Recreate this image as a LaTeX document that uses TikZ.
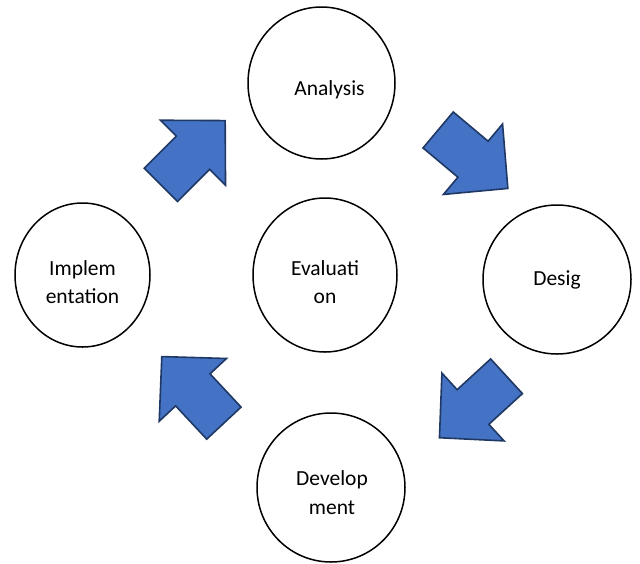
\documentclass[tikz,border=0pt]{standalone}
\usepackage{fontspec}
\setmainfont{Carlito}
\usetikzlibrary{shapes.geometric}

\definecolor{arrowfill}{HTML}{4472C4}
\definecolor{arrowline}{HTML}{1F3864}

\tikzset{
  phase/.style={ellipse, draw=black, line width=1.5pt, fill=white, inner sep=0pt},
  phasetext/.style={inner sep=0pt, align=center, font=\fontsize{21.5}{28.5}\selectfont},
  arrowshape/.style={fill=arrowfill, draw=arrowline, line width=1.6pt, line join=miter},
  blockarrow/.pic={
    \draw[arrowshape] (-45.5,-23.5) -- (0,-23.5) -- (0,-46) -- (45.5,0)
      -- (0,46) -- (0,23.5) -- (-45.5,23.5) -- cycle;
  }
}

\begin{document}
\begin{tikzpicture}[x=1pt,y=-1pt]
    % 
  \useasboundingbox (0,0) rectangle (640,563);

  \node[phase, minimum width=147pt, minimum height=152pt] (analysis) at (321.5,83) {};
  \node[phase, minimum width=148pt, minimum height=149pt] (design) at (557,279.5) {};
  \node[phase, minimum width=148pt, minimum height=149pt] (develop) at (331,487.5) {};
  \node[phase, minimum width=135pt, minimum height=144pt] (implement) at (82.5,275) {};
  \node[phase, minimum width=144pt, minimum height=154pt] (evaluate) at (325,275) {};

  \node[phasetext] (analysis_txt) at ([xshift=8pt,yshift=-7pt]analysis.center) {Analysis};
  \node[phasetext] (design_txt) at (design.center) {Desig};
  \node[phasetext] (develop_txt) at ([xshift=1pt,yshift=-5pt]develop.center) {Develop\\ment};
  \node[phasetext] (implement_txt) at ([yshift=-7pt]implement.center) {Implem\\entation};
  \node[phasetext] (evaluate_txt) at ([yshift=-7pt]evaluate.center) {Evaluati\\on};

  \pic[rotate=45]    at (193,152.75) {blockarrow};
  \pic[rotate=-40]   at (473,159.2)  {blockarrow};
  \pic[rotate=222.5] at (473,407)    {blockarrow};
  \pic[rotate=133]   at (192.85,389.85) {blockarrow};

\end{tikzpicture}
\end{document}
